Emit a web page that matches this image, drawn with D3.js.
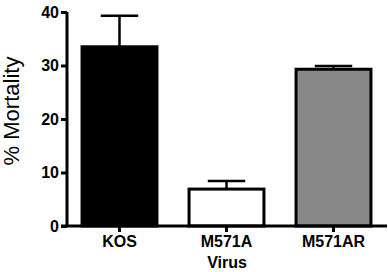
<!DOCTYPE html>
<head>
  <meta charset="utf-8">
  <script src="https://d3js.org/d3.v7.min.js"></script>
  <style>
    body { margin:0; background:#fff; }
    text { font-family: "Liberation Sans", Arial, sans-serif; }
  </style>
</head>
<body>
<script>
  var width = 388, height = 272;

  // data
  var viruses = ["KOS", "M571A", "M571AR"];
  var mortality = [33.5, 6.9, 29.3];
  var errTop = [39.3, 8.4, 29.9];
  var fills = ["#000000", "#ffffff", "#888888"];
  var yTicks = [0, 10, 20, 30, 40];

  var svg = d3.select("body").append("svg")
    .attr("width", width)
    .attr("height", height);

  var x = d3.scaleBand()
    .domain(viruses)
    .range([66, 387])
    .paddingInner(0.3)
    .paddingOuter(0.15);

  var y = d3.scaleLinear()
    .domain([0, 40])
    .range([226, 12]);

  // bars
  svg.selectAll(".bar")
    .data(viruses)
    .enter().append("rect")
    .attr("class", "bar")
    .attr("x", function(d){ return x(d); })
    .attr("y", function(d, i){ return y(mortality[i]); })
    .attr("width", x.bandwidth())
    .attr("height", function(d, i){ return y(0) - y(mortality[i]); })
    .attr("fill", function(d, i){ return fills[i]; })
    .attr("stroke", "#000")
    .attr("stroke-width", 3);

  // error bars (upper only)
  var capHalf = x.bandwidth() / 4;
  viruses.forEach(function(d, i){
    var cx = x(d) + x.bandwidth() / 2;
    svg.append("line")
      .attr("x1", cx).attr("x2", cx)
      .attr("y1", y(mortality[i])).attr("y2", y(errTop[i]))
      .attr("stroke", "#000").attr("stroke-width", 2.5);
    svg.append("line")
      .attr("x1", cx - capHalf).attr("x2", cx + capHalf)
      .attr("y1", y(errTop[i])).attr("y2", y(errTop[i]))
      .attr("stroke", "#000").attr("stroke-width", 2.5);
  });

  // y axis
  var yAxis = svg.append("g")
    .attr("transform", "translate(67,0)")
    .call(d3.axisLeft(y).tickValues(yTicks).tickSize(6).tickPadding(2));
  yAxis.select(".domain").attr("stroke-width", 3).attr("d", "M0," + y(40) + "V" + y(0));
  yAxis.selectAll(".tick line").attr("stroke-width", 3);
  yAxis.selectAll(".tick text")
    .attr("font-size", 16).attr("font-weight", "bold").attr("fill", "#000")
    .attr("font-family", "Liberation Sans, Arial, sans-serif");

  // x axis
  var xAxis = svg.append("g")
    .attr("transform", "translate(0," + y(0) + ")")
    .call(d3.axisBottom(x).tickSize(6).tickPadding(4));
  xAxis.select(".domain").attr("stroke-width", 3).attr("d", "M61,0H387");
  xAxis.selectAll(".tick line").attr("stroke-width", 3);
  xAxis.selectAll(".tick text")
    .attr("font-size", 16).attr("font-weight", "bold").attr("fill", "#000")
    .attr("font-family", "Liberation Sans, Arial, sans-serif");

  // axis titles
  svg.append("text")
    .attr("transform", "translate(19,111) rotate(-90)")
    .attr("text-anchor", "middle")
    .attr("font-size", 22)
    .text("% Mortality");

  svg.append("text")
    .attr("x", 227).attr("y", 268)
    .attr("text-anchor", "middle")
    .attr("font-size", 16).attr("font-weight", "bold")
    .text("Virus");
</script>
</body>
